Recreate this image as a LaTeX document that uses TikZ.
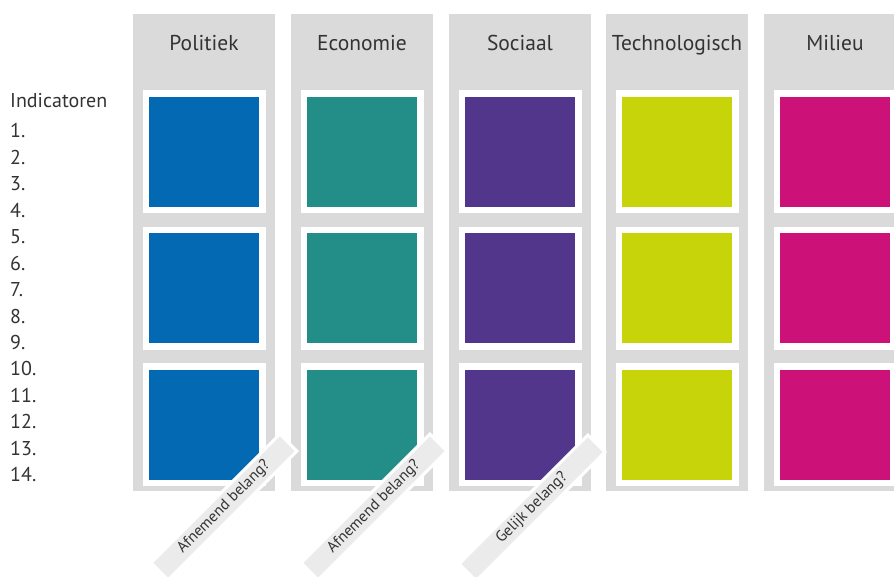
\documentclass[tikz,border=0pt]{standalone}
\usepackage{fontspec}
\setmainfont{PT Sans}
\usepackage{tikz}
\definecolor{lanegray}{HTML}{DADADA}
\definecolor{tabgray}{HTML}{EBEBEB}
\definecolor{textgray}{HTML}{333333}
\definecolor{politiekblue}{HTML}{0469B3}
\definecolor{economieteal}{HTML}{238E87}
\definecolor{sociaalpurple}{HTML}{52368B}
\definecolor{techlime}{HTML}{C8D40A}
\definecolor{milieumagenta}{HTML}{CC1279}

\begin{document}
\begin{tikzpicture}
            [every node/.style={inner sep=0pt},
             lanebox/.style={rectangle, minimum width=142pt, minimum height=477pt, fill=lanegray},
             tilebox/.style={rectangle, minimum size=116.5pt, line width=6.5pt, draw=white, fill=#1},
             headtext/.style={anchor=base, font=\fontsize{21.5}{24}\selectfont, text=textgray},
             tabbox/.style={rectangle, rotate=45, minimum width=182pt, minimum height=24pt, fill=tabgray, draw=white, line width=3pt, font=\fontsize{15.5}{18}\selectfont, text=textgray}]
                \useasboundingbox (0pt, 0pt) rectangle (894pt, -576pt);
                \clip (0pt, 0pt) rectangle (894pt, -576pt);
                \node (pol) [lanebox] at (204pt, -252.5pt) {};
                \node (eco) [lanebox] at (362pt, -252.5pt) {};
                \node (soc) [lanebox] at (520pt, -252.5pt) {};
                \node (tec) [lanebox] at (677pt, -252.5pt) {};
                \node (mil) [lanebox] at (835pt, -252.5pt) {};
                \node (polhead) [headtext] at (204pt, -50pt) {Politiek};
                \node (ecohead) [headtext] at (362pt, -50pt) {Economie};
                \node (sochead) [headtext] at (520pt, -50pt) {Sociaal};
                \node (techead) [headtext] at (677pt, -50pt) {Technologisch};
                \node (milhead) [headtext] at (835pt, -50pt) {Milieu};
                \node (pol1) [tilebox=politiekblue] at (204pt, -151.5pt) {};
                \node (pol2) [tilebox=politiekblue] at (204pt, -288pt) {};
                \node (pol3) [tilebox=politiekblue] at (204pt, -424.5pt) {};
                \node (eco1) [tilebox=economieteal] at (362pt, -151.5pt) {};
                \node (eco2) [tilebox=economieteal] at (362pt, -288pt) {};
                \node (eco3) [tilebox=economieteal] at (362pt, -424.5pt) {};
                \node (soc1) [tilebox=sociaalpurple] at (520pt, -151.5pt) {};
                \node (soc2) [tilebox=sociaalpurple] at (520pt, -288pt) {};
                \node (soc3) [tilebox=sociaalpurple] at (520pt, -424.5pt) {};
                \node (tec1) [tilebox=techlime] at (677pt, -151.5pt) {};
                \node (tec2) [tilebox=techlime] at (677pt, -288pt) {};
                \node (tec3) [tilebox=techlime] at (677pt, -424.5pt) {};
                \node (mil1) [tilebox=milieumagenta] at (835pt, -151.5pt) {};
                \node (mil2) [tilebox=milieumagenta] at (835pt, -288pt) {};
                \node (mil3) [tilebox=milieumagenta] at (835pt, -424.5pt) {};
                \node (poltab) [tabbox] at (224pt, -507pt) {Afnemend belang?};
                \node (ecotab) [tabbox] at (374pt, -507pt) {Afnemend belang?};
                \node (soctab) [tabbox] at (532pt, -508pt) {Gelijk belang?};
                \node (ind) [anchor=north west, align=left, text=textgray, font=\fontsize{20}{26.46}\selectfont] at (10pt, -93.5pt)
                    {Indicatoren\\[3.5pt]1.\\2.\\3.\\4.\\5.\\6.\\7.\\8.\\9.\\10.\\11.\\12.\\13.\\14.};
            \end{tikzpicture}
\end{document}
